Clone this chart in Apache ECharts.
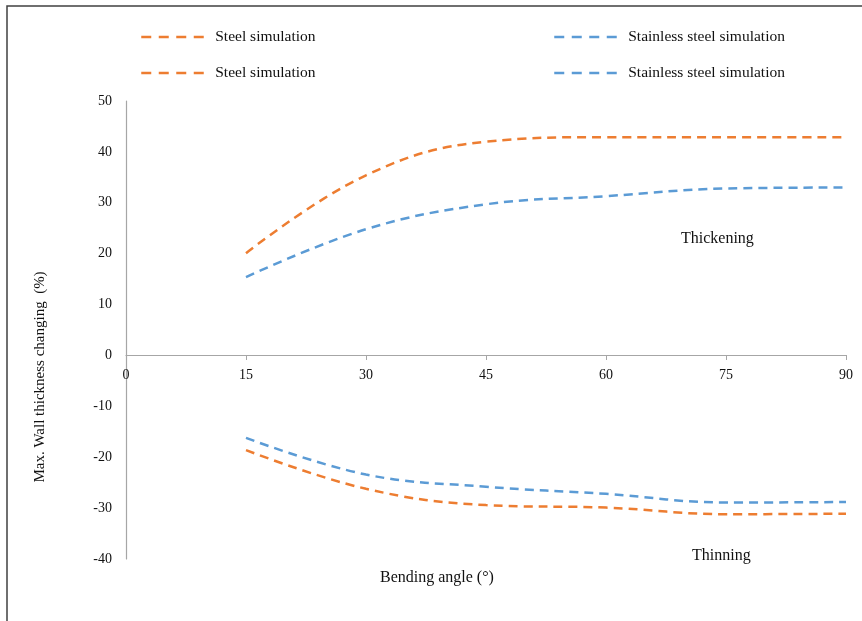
<!DOCTYPE html>
<html>
<head>
<meta charset="utf-8">
<script src="https://cdn.jsdelivr.net/npm/echarts@6/dist/echarts.min.js"></script>
<style>
  html, body { margin: 0; padding: 0; background: #fff; }
  #chart { width: 862px; height: 621px; }
</style>
</head>
<body>
<div id="chart"></div>
<script>
// bending angle (deg)
const angles = [15, 30, 45, 60, 75, 90];
// max wall thickness changing (%)
const steelThick = [20.1, 35.4, 42.0, 42.9, 42.9, 42.9];
const stainlessThick = [15.4, 24.8, 29.7, 31.3, 32.8, 33.0];
const steelThin = [-18.6, -26.2, -29.4, -29.9, -31.2, -31.1];
const stainlessThin = [-16.2, -23.4, -25.8, -27.2, -28.9, -28.8];

const ORANGE = "#ED7D31";
const BLUE = "#5B9BD5";
const FONT = "Liberation Serif";

const chart = echarts.init(document.getElementById("chart"));

function pairs(ys) {
  return angles.map((x, i) => [x, ys[i]]);
}

function makeSeries(name, ys, color) {
  return {
    name: name,
    type: "line",
    data: pairs(ys),
    smooth: 0.4,
    symbol: "none",
    lineStyle: { color: color, width: 2.5, type: [9, 6] },
    itemStyle: { color: color },
  };
}

function makeLegend(name, left, top) {
  return {
    data: [name],
    left: left,
    top: top,
    padding: 0,
    itemWidth: 63,
    itemHeight: 14,
    itemStyle: { opacity: 0 },
    lineStyle: { width: 2.5, type: [10, 7.5] },
    textStyle: { fontFamily: FONT, fontSize: 15.5, color: "#111", padding: [0, 0, 0, 6] },
  };
}

chart.setOption({
  animation: false,
  textStyle: { fontFamily: FONT },
  grid: { left: 126, right: 16, top: 101, bottom: 62 },
  legend: [
    makeLegend("Steel simulation", 140, 29),
    makeLegend("Stainless steel simulation", 553, 29),
    makeLegend("Steel simulation", 140, 65),
    makeLegend("Stainless steel simulation", 553, 65),
  ],
  xAxis: {
    type: "value",
    min: 0,
    max: 90,
    interval: 15,
    offset: -204,
    axisLine: { onZero: false, lineStyle: { color: "#a6a6a6", width: 1.2 } },
    axisTick: { show: true, length: 5, lineStyle: { color: "#a6a6a6" } },
    axisLabel: { fontFamily: FONT, fontSize: 14, color: "#111", margin: 13 },
    splitLine: { show: false },
  },
  yAxis: {
    type: "value",
    min: -40,
    max: 50,
    interval: 10,
    axisLine: { show: true, lineStyle: { color: "#a6a6a6", width: 1.2 } },
    axisTick: { show: false },
    axisLabel: { fontFamily: FONT, fontSize: 14, color: "#111", margin: 14 },
    splitLine: { show: false },
  },
  series: [
    makeSeries("Steel simulation", steelThick, ORANGE),
    makeSeries("Stainless steel simulation", stainlessThick, BLUE),
    makeSeries("Steel simulation", steelThin, ORANGE),
    makeSeries("Stainless steel simulation", stainlessThin, BLUE),
  ],
  graphic: [
    {
      type: "rect",
      shape: { x: 7, y: 6, width: 900, height: 700 },
      style: { fill: "none", stroke: "#404040", lineWidth: 1.5 },
      silent: true,
    },
    {
      // y axis title, sits lower than the axis middle
      type: "text",
      x: 40,
      y: 377,
      rotation: Math.PI / 2,
      style: {
        text: "Max. Wall thickness changing  (%)",
        font: "15px " + FONT,
        fill: "#111",
        align: "center",
        verticalAlign: "middle",
      },
    },
    {
      type: "text",
      left: 380,
      top: 570,
      style: { text: "Bending angle (°)", font: "16px " + FONT, fill: "#111" },
    },
    {
      type: "text",
      left: 681,
      top: 231,
      style: { text: "Thickening", font: "16px " + FONT, fill: "#111" },
    },
    {
      type: "text",
      left: 692,
      top: 548,
      style: { text: "Thinning", font: "16px " + FONT, fill: "#111" },
    },
  ],
});
</script>
</body>
</html>
